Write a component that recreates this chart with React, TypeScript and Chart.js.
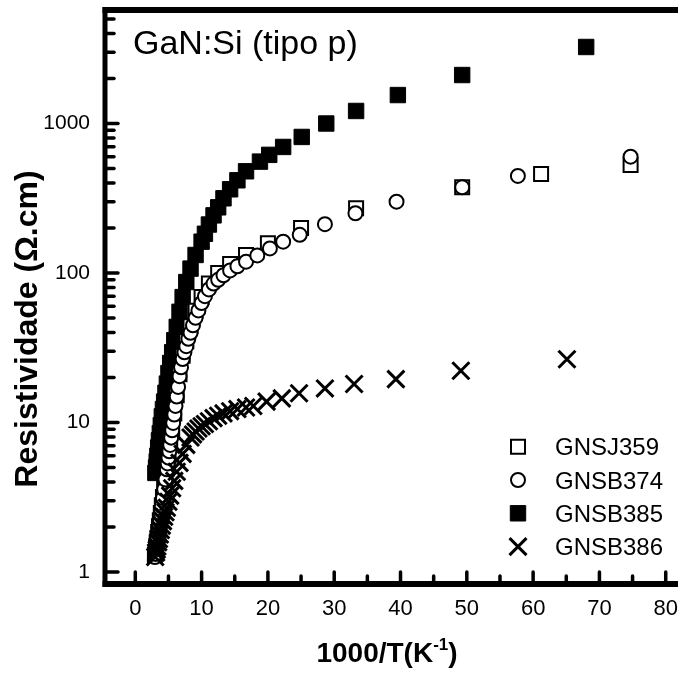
import React, { useEffect, useRef } from 'react';
import { Chart, registerables } from 'chart.js';
import { drawPoint } from 'chart.js/helpers';

Chart.register(...registerables);

const FONT = '"Liberation Sans", Arial, Helvetica, sans-serif';

// ---- data (x = 1000/T in K^-1, y = resistivity in ohm.cm) ----
const seriesLabels = ['GNSJ359', 'GNSB374', 'GNSB385', 'GNSB386'];

const gnsj359X = [2.96, 3.03, 3.13, 3.23, 3.33, 3.45, 3.57, 3.70, 3.85, 4.00, 4.17, 4.35, 4.55, 4.76, 5.00, 5.26, 5.56, 5.88, 6.25, 6.67, 7.14, 7.69, 8.33, 9.09, 10.0, 11.1, 12.5, 14.3, 16.7, 20.0, 25.0, 33.3, 49.3, 61.2, 74.7];
const gnsj359Y = [1.30, 1.35, 1.45, 1.57, 1.69, 1.85, 2.02, 2.22, 2.48, 2.79, 3.17, 3.62, 4.2, 4.92, 5.9, 7.2, 9.0, 11.5, 15.2, 21, 28, 35, 44, 56, 69, 85, 100, 115, 132, 158, 200, 271, 374, 459, 528];

const gnsb374X = [2.96, 3.03, 3.13, 3.23, 3.33, 3.45, 3.57, 3.70, 3.85, 4.00, 4.17, 4.35, 4.55, 4.76, 4.88, 5.00, 5.13, 5.26, 5.41, 5.56, 5.71, 5.88, 6.06, 6.25, 6.45, 6.67, 6.90, 7.14, 7.41, 7.69, 8.00, 8.33, 8.70, 9.09, 9.52, 10.0, 10.5, 11.1, 11.8, 12.5, 13.3, 14.3, 15.4, 16.7, 18.4, 20.3, 22.3, 24.8, 28.6, 33.2, 39.4, 49.3, 57.7, 74.7];
const gnsb374Y = [1.26, 1.32, 1.43, 1.55, 1.66, 1.82, 1.99, 2.19, 2.45, 2.75, 3.12, 3.57, 4.15, 4.86, 5.32, 5.82, 6.41, 7.08, 7.92, 8.87, 9.93, 11.3, 12.9, 14.9, 17.3, 20.4, 23.4, 26.6, 29.5, 32.4, 36.3, 39.8, 44.7, 50.1, 56.2, 63, 70, 77.6, 85, 90, 96.6, 104, 111, 119, 131, 146, 162, 180, 212, 251, 300, 374, 446, 600];

const gnsb385X = [3.03, 3.13, 3.23, 3.33, 3.45, 3.57, 3.70, 3.85, 4.00, 4.17, 4.35, 4.55, 4.76, 5.00, 5.26, 5.56, 5.88, 6.25, 6.67, 7.14, 7.69, 8.33, 9.09, 10.0, 10.5, 11.1, 11.8, 12.5, 13.3, 14.3, 15.4, 16.7, 18.8, 20.2, 22.3, 25.1, 28.8, 33.3, 39.6, 49.3, 68.0];
const gnsb385Y = [4.6, 5.0, 5.5, 6.0, 6.8, 7.6, 8.5, 9.6, 11.0, 12.3, 13.8, 15.8, 18.2, 21.4, 25, 29.5, 35.5, 43.6, 55, 69, 87, 107, 132, 162, 183, 211, 243, 275, 316, 363, 417, 479, 556, 617, 697, 813, 1000, 1213, 1550, 2110, 3250];

const gnsb386X = [3.00, 3.13, 3.23, 3.33, 3.45, 3.57, 3.70, 3.85, 4.00, 4.17, 4.35, 4.55, 4.76, 5.00, 5.26, 5.56, 5.88, 6.25, 6.67, 7.14, 7.69, 8.33, 8.70, 9.09, 9.52, 10.0, 10.5, 11.1, 11.8, 12.5, 13.3, 14.3, 15.4, 16.7, 17.8, 19.8, 22.1, 24.7, 28.6, 33.0, 39.3, 49.1, 65.1];
const gnsb386Y = [1.26, 1.35, 1.41, 1.48, 1.58, 1.66, 1.78, 1.91, 2.04, 2.19, 2.34, 2.51, 2.69, 2.95, 3.24, 3.63, 4.07, 4.68, 5.37, 6.17, 7.08, 7.94, 8.32, 8.71, 9.12, 9.44, 9.77, 10.2, 10.7, 11.1, 11.5, 11.9, 12.3, 12.6, 12.9, 13.8, 14.5, 15.7, 16.9, 18.1, 19.5, 22.2, 26.5];

const xTicks = [0, 10, 20, 30, 40, 50, 60, 70, 80];
const xMinorTicks = [5, 15, 25, 35, 45, 55, 65, 75];
const yTicks = [1, 10, 100, 1000];
const yMinorTicks = [2, 3, 4, 5, 6, 7, 8, 9, 20, 30, 40, 50, 60, 70, 80, 90, 200, 300, 400, 500, 600, 700, 800, 900, 2000, 3000, 4000, 5000];

const xTitleMain = '1000/T(K';
const xTitleSup = '-1';
const xTitleEnd = ')';
const yTitle = 'Resistividade (\u03A9.cm)';
const annotation = 'GaN:Si (tipo p)';

// ---- styles ----
const markerStyles = [
  { pointStyle: 'rect', radius: 9.9, borderWidth: 2, fill: '#ffffff', order: 2 },
  { pointStyle: 'circle', radius: 7, borderWidth: 2, fill: '#ffffff', order: 1 },
  { pointStyle: 'rect', radius: 10.9, borderWidth: 1, fill: '#000000', order: 3 },
  { pointStyle: 'crossRot', radius: 12, borderWidth: 3, fill: 'rgba(0,0,0,0)', order: 0 },
];

const seriesX = [gnsj359X, gnsb374X, gnsb385X, gnsb386X];
const seriesY = [gnsj359Y, gnsb374Y, gnsb385Y, gnsb386Y];

const framePlugin = {
  id: 'frame',
  afterDatasetsDraw(chart: any) {
    const { ctx, chartArea: a, scales } = chart;
    const xs = scales.x;
    const ys = scales.y;
    ctx.save();
    ctx.strokeStyle = '#000';
    ctx.lineCap = 'butt';
    ctx.lineWidth = 5;
    ctx.beginPath();
    ctx.moveTo(a.left, a.top - 3);
    ctx.lineTo(a.left, a.bottom + 3);
    ctx.stroke();
    ctx.lineWidth = 6;
    ctx.beginPath();
    ctx.moveTo(a.left - 2.5, a.bottom);
    ctx.lineTo(a.right, a.bottom);
    ctx.stroke();
    ctx.beginPath();
    ctx.moveTo(a.left - 2.5, a.top);
    ctx.lineTo(a.right, a.top);
    ctx.stroke();

    ctx.lineWidth = 3.5;
    ctx.lineCap = 'round';
    const tick = (x1: number, y1: number, x2: number, y2: number) => {
      ctx.beginPath();
      ctx.moveTo(x1, y1);
      ctx.lineTo(x2, y2);
      ctx.stroke();
    };
    xTicks.forEach((v) => {
      const p = xs.getPixelForValue(v);
      tick(p, a.bottom, p, a.bottom - 12);
    });
    xMinorTicks.forEach((v) => {
      const p = xs.getPixelForValue(v);
      tick(p, a.bottom, p, a.bottom - 8);
    });
    yTicks.forEach((v) => {
      const p = ys.getPixelForValue(v);
      tick(a.left, p, a.left + 13, p);
    });
    yMinorTicks.forEach((v) => {
      const p = ys.getPixelForValue(v);
      if (p > a.top + 4 && p < a.bottom - 4) tick(a.left, p, a.left + 9, p);
    });
    ctx.restore();
  },
};

const textPlugin = {
  id: 'texts',
  afterDraw(chart: any) {
    const { ctx } = chart;
    ctx.save();
    ctx.fillStyle = '#000';

    // annotation
    ctx.font = `34px ${FONT}`;
    ctx.textAlign = 'left';
    ctx.textBaseline = 'alphabetic';
    ctx.fillText(annotation, 133, 54);

    // y title
    ctx.save();
    ctx.translate(37, 329);
    ctx.rotate(-Math.PI / 2);
    ctx.font = `bold 32px ${FONT}`;
    ctx.textAlign = 'center';
    ctx.fillText(yTitle, 0, 0);
    ctx.restore();

    // x title with superscript
    ctx.textAlign = 'left';
    ctx.font = `bold 28px ${FONT}`;
    const w1 = ctx.measureText(xTitleMain).width;
    const w3 = ctx.measureText(xTitleEnd).width;
    ctx.font = `bold 17px ${FONT}`;
    const w2 = ctx.measureText(xTitleSup).width;
    const total = w1 + w2 + w3;
    const sx = 387 - total / 2;
    const by = 662;
    ctx.font = `bold 28px ${FONT}`;
    ctx.fillText(xTitleMain, sx, by);
    ctx.fillText(xTitleEnd, sx + w1 + w2, by);
    ctx.font = `bold 17px ${FONT}`;
    ctx.fillText(xTitleSup, sx + w1, by - 12);

    // legend
    seriesLabels.forEach((label, i) => {
      const st = markerStyles[i];
      const y = 446.7 + i * 33.3;
      ctx.fillStyle = st.fill;
      ctx.strokeStyle = '#000';
      ctx.lineWidth = st.borderWidth;
      drawPoint(ctx, { pointStyle: st.pointStyle as any, radius: st.radius, borderWidth: st.borderWidth, rotation: 0 }, 518, y);
      ctx.fillStyle = '#000';
      ctx.font = `24px ${FONT}`;
      ctx.textAlign = 'left';
      ctx.textBaseline = 'alphabetic';
      ctx.fillText(label, 555, y + 8.6);
    });
    ctx.restore();
  },
};

export default function App() {
  const canvasRef = useRef<HTMLCanvasElement | null>(null);

  useEffect(() => {
    if (!canvasRef.current) return;
    Chart.defaults.font.family = FONT;
    Chart.defaults.color = '#000';
    const datasets = seriesLabels.map((label, i) => {
      const st = markerStyles[i];
      return {
        label,
        data: seriesX[i].map((x, j) => ({ x, y: seriesY[i][j] })),
        showLine: false,
        pointStyle: st.pointStyle as any,
        pointRadius: st.radius,
        pointHoverRadius: st.radius,
        pointBorderWidth: st.borderWidth,
        pointBackgroundColor: st.fill,
        pointBorderColor: '#000000',
        order: st.order,
        clip: false as any,
      };
    });
    const chart = new Chart(canvasRef.current, {
      type: 'scatter',
      data: { datasets },
      options: {
        animation: false,
        responsive: false,
        events: [],
        layout: { autoPadding: false, padding: { top: 10, right: 0, left: 0, bottom: 0 } },
        plugins: {
          legend: { display: false },
          tooltip: { enabled: false },
          title: { display: false },
        },
        scales: {
          x: {
            type: 'linear',
            min: -4.57,
            max: 81.85,
            bounds: 'data',
            grid: { display: false, drawTicks: false },
            border: { display: false },
            ticks: { font: { size: 22 }, color: '#000', padding: 12, maxRotation: 0, autoSkip: false },
            afterBuildTicks: (scale: any) => {
              scale.ticks = xTicks.map((v) => ({ value: v }));
            },
            afterFit: (scale: any) => {
              scale.height = 90;
              scale.paddingLeft = 0;
              scale.paddingRight = 0;
            },
          },
          y: {
            type: 'logarithmic',
            min: 0.831,
            max: 5745,
            bounds: 'data',
            grid: { display: false, drawTicks: false },
            border: { display: false },
            ticks: {
              font: { size: 21 },
              color: '#000',
              padding: 15,
              autoSkip: false,
              callback: (v: any) => String(v),
            },
            afterBuildTicks: (scale: any) => {
              scale.ticks = yTicks.map((v) => ({ value: v }));
            },
            afterFit: (scale: any) => {
              scale.width = 105;
              scale.paddingTop = 0;
              scale.paddingBottom = 0;
            },
          },
        },
      },
      plugins: [framePlugin, textPlugin],
    });
    return () => chart.destroy();
  }, []);

  return (
    <div style={{ position: 'fixed', left: 0, top: 0, width: 678, height: 674, overflow: 'hidden', background: '#fff' }}>
      <canvas ref={canvasRef} width={678} height={674} />
    </div>
  );
}
